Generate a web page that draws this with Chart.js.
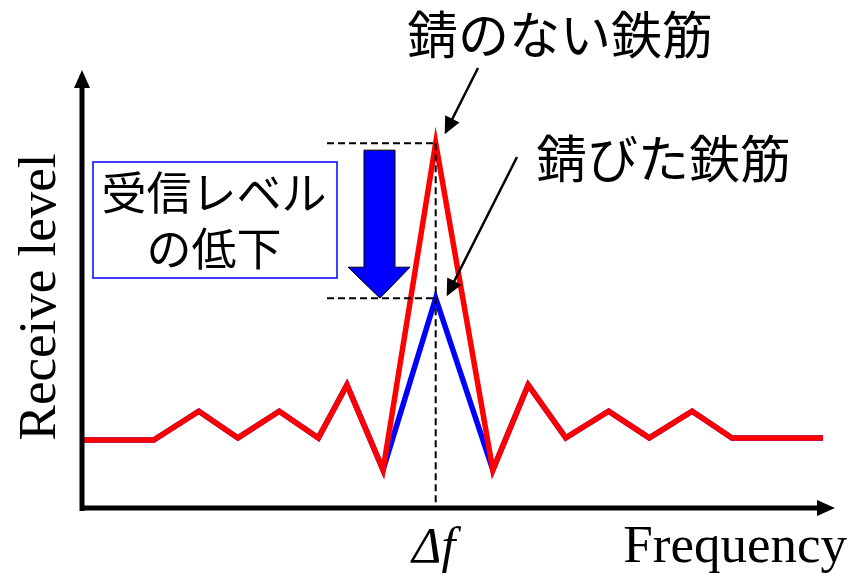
<!DOCTYPE html>
<html>
<head>
<meta charset="utf-8">
<script src="https://cdn.jsdelivr.net/npm/chart.js@4/dist/chart.umd.min.js"></script>
<style>
  html, body { margin: 0; padding: 0; background: #fff; }
  #wrap { width: 859px; height: 586px; position: relative; }
</style>
</head>
<body>
<div id="wrap"><canvas id="chart"></canvas></div>
<script>
// frequency positions (arbitrary units, axis runs 0..100)
const freq = [0, 9.4, 15.4, 20.6, 26.1, 31.3, 35.1, 39.9, 46.9, 54.5, 59.2, 64.2, 69.9, 75.3, 81.0, 86.3, 98.4];
// receive level, sound (rust-free) bar
const soundLevel = [15.5, 15.5, 22.1, 16.0, 22.1, 16.0, 28.1, 8.7, 83.3, 8.7, 28.1, 16.0, 22.1, 16.0, 22.1, 16.0, 16.0];
// receive level, rusted bar
const rustedLevel = [15.5, 15.5, 22.1, 16.0, 22.1, 16.0, 28.1, 8.7, 47.9, 8.7, 28.1, 16.0, 22.1, 16.0, 22.1, 16.0, 16.0];

const peakIndex = 8;
const xTitle = "Frequency";
const yTitle = "Receive level";
const peakLabel = "Δf";
const soundLabel = "錆のない鉄筋";
const rustedLabel = "錆びた鉄筋";
const dropLabel = ["受信レベル", "の低下"];

const serif = '"Liberation Serif", "Times New Roman", serif';
const jp = '"Noto Sans CJK JP", "Noto Sans", sans-serif';

function toPoints(xs, ys) {
  return xs.map((x, i) => ({ x: x, y: ys[i] }));
}

function arrow(ctx, x1, y1, x2, y2, len, half) {
  const a = Math.atan2(y2 - y1, x2 - x1);
  ctx.beginPath();
  ctx.moveTo(x1, y1);
  ctx.lineTo(x2 - Math.cos(a) * len * 0.8, y2 - Math.sin(a) * len * 0.8);
  ctx.stroke();
  ctx.beginPath();
  ctx.moveTo(x2, y2);
  ctx.lineTo(x2 - Math.cos(a) * len - Math.sin(a) * half, y2 - Math.sin(a) * len + Math.cos(a) * half);
  ctx.lineTo(x2 - Math.cos(a) * len + Math.sin(a) * half, y2 - Math.sin(a) * len - Math.cos(a) * half);
  ctx.closePath();
  ctx.fill();
}

const decorations = {
  id: "decorations",
  afterDatasetsDraw(chart) {
    const ctx = chart.ctx;
    const xs = chart.scales.x;
    const ys = chart.scales.y;
    const area = chart.chartArea;

    const px = xs.getPixelForValue(freq[peakIndex]);
    const topY = ys.getPixelForValue(soundLevel[peakIndex]);
    const lowY = ys.getPixelForValue(rustedLevel[peakIndex]);

    ctx.save();

    // dashed guide lines
    ctx.strokeStyle = "#000";
    ctx.lineWidth = 2;
    ctx.setLineDash([7, 4]);
    ctx.beginPath();
    ctx.moveTo(px, topY);
    ctx.lineTo(px, area.bottom);
    ctx.moveTo(327, topY);
    ctx.lineTo(px, topY);
    ctx.moveTo(327, lowY);
    ctx.lineTo(px, lowY);
    ctx.stroke();
    ctx.setLineDash([]);

    // axes with arrow heads
    ctx.fillStyle = "#000";
    ctx.lineWidth = 5;
    ctx.beginPath();
    ctx.moveTo(area.left - 1, area.bottom + 3);
    ctx.lineTo(area.left - 1, area.top + 15);
    ctx.moveTo(area.left - 3, area.bottom);
    ctx.lineTo(area.right - 15, area.bottom);
    ctx.stroke();
    ctx.beginPath();
    ctx.moveTo(area.left - 1, area.top);
    ctx.lineTo(area.left - 9, area.top + 18);
    ctx.lineTo(area.left + 7, area.top + 18);
    ctx.closePath();
    ctx.fill();
    ctx.beginPath();
    ctx.moveTo(area.right, area.bottom);
    ctx.lineTo(area.right - 18, area.bottom - 8);
    ctx.lineTo(area.right - 18, area.bottom + 8);
    ctx.closePath();
    ctx.fill();

    // box for the drop label
    ctx.fillStyle = "#fff";
    ctx.fillRect(93, 162, 244, 116);
    ctx.strokeStyle = "#0000ff";
    ctx.lineWidth = 1.5;
    ctx.strokeRect(93, 162, 244, 116);

    // big blue down arrow
    const ax = 380;
    const aTop = topY + 7;
    const aTip = lowY;
    ctx.beginPath();
    ctx.moveTo(ax - 16, aTop);
    ctx.lineTo(ax + 15, aTop);
    ctx.lineTo(ax + 15, aTip - 31);
    ctx.lineTo(ax + 30, aTip - 31);
    ctx.lineTo(ax, aTip);
    ctx.lineTo(ax - 32, aTip - 31);
    ctx.lineTo(ax - 16, aTip - 31);
    ctx.closePath();
    ctx.fillStyle = "#0000ff";
    ctx.fill();
    ctx.strokeStyle = "#000";
    ctx.lineWidth = 1;
    ctx.stroke();

    // pointer arrows
    ctx.fillStyle = "#000";
    ctx.strokeStyle = "#000";
    ctx.lineWidth = 2.5;
    arrow(ctx, 478, 68, px + 9, topY - 9, 17, 8);
    arrow(ctx, 517, 157, px + 11, lowY - 2, 17, 8);

    // texts
    ctx.fillStyle = "#000";
    ctx.textBaseline = "middle";
    ctx.textAlign = "center";
    ctx.font = "51px " + jp;
    ctx.fillText(soundLabel, 560, 35);
    ctx.textAlign = "left";
    ctx.fillText(rustedLabel, 536, 159);
    ctx.textAlign = "center";
    ctx.font = "45px " + jp;
    ctx.fillText(dropLabel[0], 214, 193);
    ctx.fillText(dropLabel[1], 214, 249);

    ctx.textBaseline = "alphabetic";
    ctx.font = "53px " + serif;
    ctx.textAlign = "right";
    ctx.fillText(xTitle, 847, 562);
    ctx.font = "italic 50px " + serif;
    ctx.textAlign = "center";
    ctx.fillText(peakLabel, px - 2, 562);

    ctx.save();
    ctx.translate(55, 297);
    ctx.rotate(-Math.PI / 2);
    ctx.font = "53px " + serif;
    ctx.textAlign = "center";
    ctx.fillText(yTitle, 0, 0);
    ctx.restore();

    ctx.restore();
  }
};

new Chart(document.getElementById("chart"), {
  type: "line",
  data: {
    datasets: [
      {
        label: soundLabel,
        data: toPoints(freq, soundLevel),
        borderColor: "#ff0000",
        borderWidth: 5.5,
        pointRadius: 0,
        tension: 0,
        order: 1,
      },
      {
        label: rustedLabel,
        data: toPoints(freq, rustedLevel),
        borderColor: "#0000ff",
        borderWidth: 5.5,
        pointRadius: 0,
        tension: 0,
        order: 2,
      },
    ],
  },
  options: {
    responsive: true,
    maintainAspectRatio: false,
    animation: false,
    layout: { padding: { left: 83, right: 24, top: 70, bottom: 78 } },
    plugins: {
      legend: { display: false },
      tooltip: { enabled: false },
    },
    scales: {
      x: { type: "linear", min: 0, max: 100, display: false },
      y: { type: "linear", min: 0, max: 100, display: false },
    },
  },
  plugins: [decorations],
});
</script>
</body>
</html>
